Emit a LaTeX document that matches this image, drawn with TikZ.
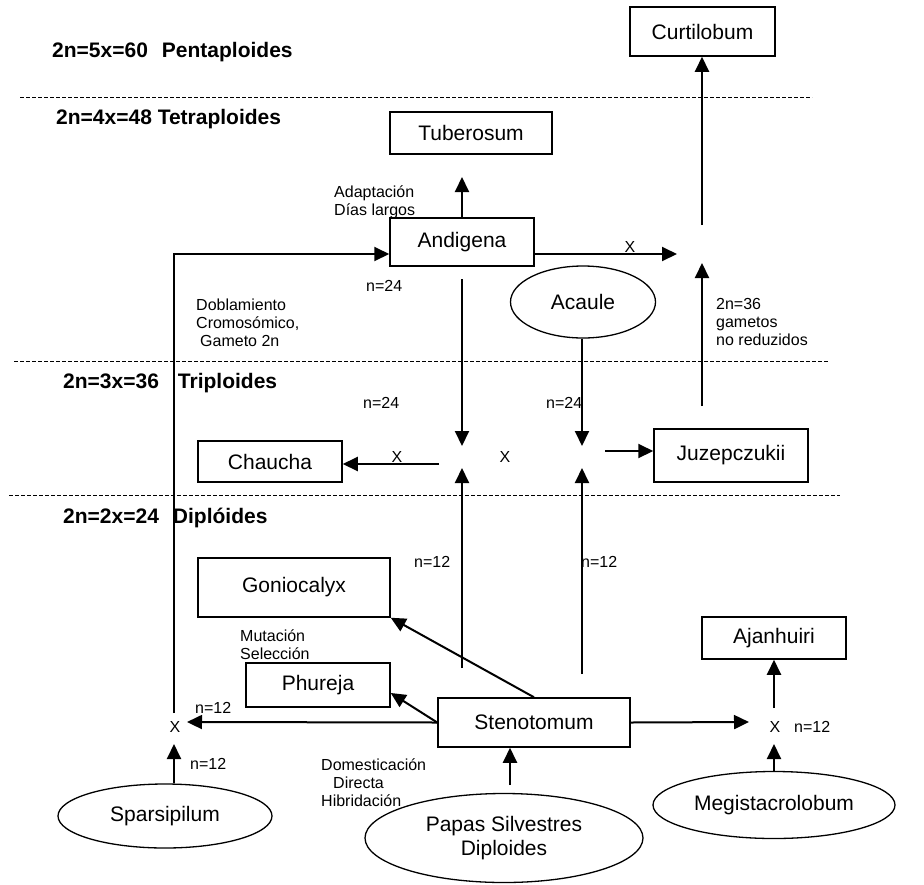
\documentclass[tikz,border=0pt]{standalone}
\usepackage{fontspec}
\setmainfont{Liberation Sans}
\usetikzlibrary{arrows.meta,shapes.geometric}
\begin{document}
\begin{tikzpicture}[x=1pt,y=-1pt,
 box/.style={draw,line width=1.5pt,inner sep=0pt,font=\fontsize{21}{24}\selectfont},
 oval/.style={draw,ellipse,line width=1.3pt,inner sep=0pt,font=\fontsize{21}{24}\selectfont,align=center},
 arr/.style={line width=2pt,-{Triangle[length=15pt,width=14pt]}},
 plainline/.style={line width=2pt},
 lbl/.style={font=\fontsize{16}{18}\selectfont,align=left,inner sep=0pt,anchor=west},
 tier/.style={font=\bfseries\fontsize{21}{24}\selectfont,inner sep=0pt,anchor=base west},
 sep/.style={line width=0.9pt,dash pattern=on 4pt off 2pt},
 cross/.style={font=\fontsize{16}{18}\selectfont,inner sep=0pt}]
\useasboundingbox (0,0) rectangle (924,884);

% separators
\draw[sep] (20,97) -- (812,97);
\draw[sep] (14,361) -- (828,361);
\draw[sep] (9,495) -- (840,495);

% tier labels
\node[tier] (t5) at (52,57) {2n=5x=60\hspace{14pt}Pentaploides};
\node[tier] (t4) at (56,124) {2n=4x=48 Tetraploides};
\node[tier] (t3) at (63,388) {2n=3x=36\hspace{19pt}Triploides};
\node[tier] (t2) at (63,523) {2n=2x=24\hspace{14pt}Dipl\'oides};

% boxes
\node[box,minimum width=145pt,minimum height=49pt] (curt) at (702.5,31.5) {Curtilobum};
\node[box,minimum width=162pt,minimum height=42pt] (tub) at (471,133) {Tuberosum};
\node[box,minimum width=144pt,minimum height=48pt] (and) at (462,242) {Andigena};
\node[box,minimum width=144pt,minimum height=41pt] (chau) at (270,461.5) {Chaucha};
\node[box,minimum width=154pt,minimum height=53pt] (juz) at (731,455.5) {Juzepczukii};
\node[box,minimum width=192pt,minimum height=59pt] (gon) at (294,587.5) {Goniocalyx};
\node[box,minimum width=144pt,minimum height=44pt] (phu) at (318,685) {Phureja};
\node[box,minimum width=192pt,minimum height=49pt] (sten) at (534,722.5) {Stenotomum};
\node[box,minimum width=144pt,minimum height=42pt] (ajan) at (774,638) {Ajanhuiri};

% ellipses
\node[oval,minimum width=145pt,minimum height=72pt] (acaule) at (583,302) {Acaule};
\node[oval,minimum width=214pt,minimum height=64pt] (spars) at (165,816) {Sparsipilum};
\node[oval,minimum width=278pt,minimum height=89pt] (papas) at (504,838) {Papas Silvestres\\Diploides};
\node[oval,minimum width=242pt,minimum height=67pt] (megis) at (774,805) {Megistacrolobum};

% junction coordinates
\coordinate (tubtip) at (462,177);
\coordinate (xLtop) at (174,713);
\coordinate (c4in) at (677,254);
\coordinate (c4up) at (702,263);
\coordinate (c4out) at (702,225);
\coordinate (juzout) at (702,406);
\coordinate (andd) at (462,279);
\coordinate (j3Ltopin) at (462,446);
\coordinate (j3Lbotin) at (462,468);
\coordinate (j3Rtopin) at (582,446);
\coordinate (j3Rbotin) at (582,468);
\coordinate (stenL) at (462,668);
\coordinate (stenR) at (582,674);
\coordinate (chauout) at (439,464);
\coordinate (juzin) at (605,451);
\coordinate (xS) at (187,722);
\coordinate (xSp) at (174,744);
\coordinate (papout) at (510,785);
\coordinate (xR) at (749,722);
\coordinate (xRm) at (774,744);
\coordinate (xRa) at (774,708);

% connectors
\draw[arr] (and.north) -- (tubtip);
\draw[arr] (xLtop) |- ([yshift=-12pt]and.west);
\draw[arr] ([yshift=-12pt]and.east) -- (c4in);
\draw[arr] (c4out) -- (curt.south -| c4out);
\draw[arr] (juzout) -- (c4up);
\draw[arr] (andd) -- (j3Ltopin);
\draw[arr] (acaule.south -| j3Rtopin) -- (j3Rtopin);
\draw[arr] (stenL) -- (j3Lbotin);
\draw[arr] (stenR) -- (j3Rbotin);
\draw[arr] (chauout) -- (chau.east |- chauout);
\draw[arr] (juzin) -- (juz.west |- juzin);
\draw[arr] (sten.north) -- (gon.south east);
\draw[arr] (sten.west) -- ([yshift=-8pt]phu.east);
\draw[arr] (sten.west) -- (xS);
\draw[arr] (spars.north -| xSp) -- (xSp);
\draw[arr] (papout) -- (sten.south -| papout);
\draw[arr] (sten.east) -- (xR);
\draw[arr] (megis.north) -- (xRm);
\draw[arr] (xRa) -- (ajan.south);

% labels
\node[lbl] (l1) at (334,202.5) {Adaptaci\'on\\D\'ias largos};
\node[lbl] (l2) at (366,286) {n=24};
\node[lbl] (l3) at (196,323) {Doblamiento\\Cromos\'omico,\\\hspace*{4pt}Gameto 2n};
\node[lbl] (l4) at (716,322) {2n=36\\gametos\\no reduzidos};
\node[lbl] (l5) at (363,403) {n=24};
\node[lbl] (l6) at (546,403) {n=24};
\node[cross] (x1) at (397,457) {X};
\node[cross] (x2) at (505,457) {X};
\node[lbl] (l7) at (414,562) {n=12};
\node[lbl] (l8) at (581,562) {n=12};
\node[lbl] (l9) at (240,644.5) {Mutaci\'on\\Selecci\'on};
\node[lbl] (l10) at (195,708) {n=12};
\node[cross] (x3) at (175,727) {X};
\node[lbl] (l11) at (190,764) {n=12};
\node[lbl] (l12) at (321,783) {Domesticaci\'on\\\hspace*{12pt}Directa\\Hibridaci\'on};
\node[cross] (x4) at (775,727) {X};
\node[lbl] (l13) at (794,727) {n=12};
\node[cross] (x5) at (630,247) {X};
\end{tikzpicture}
\end{document}
